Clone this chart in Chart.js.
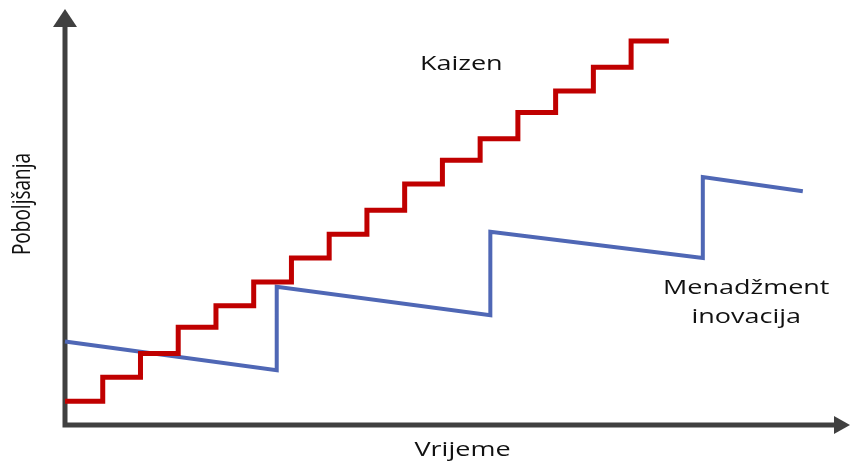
<!DOCTYPE html>
<html>
<head>
<meta charset="utf-8">
<script src="https://cdn.jsdelivr.net/npm/chart.js@4/dist/chart.umd.min.js"></script>
<style>
  html, body { margin: 0; padding: 0; background: #fff; }
  #wrap { width: 850px; height: 462px; }
</style>
</head>
<body>
<div id="wrap"><canvas id="chart"></canvas></div>
<script>
// kaizen: small steady steps
const kaizenX = [0, 1, 2, 3, 4, 5, 6, 7, 8, 9, 10, 11, 12, 13, 14, 15, 16];
const kaizenY = [1.0, 2.0, 3.0, 4.1, 5.0, 6.0, 7.0, 8.0, 9.0, 10.1, 11.1, 12.0, 13.1, 14.0, 15.0, 16.1, 16.1];

// innovation: big jumps, slow decay in between
const innovX = [0, 5.61, 5.61, 11.27, 11.27, 16.9, 16.9, 19.55];
const innovY = [3.5, 2.3, 5.8, 4.6, 8.1, 7.0, 10.4, 9.8];

const xMax = 20.8;
const yMax = 17.4;

const labels = [
  { text: ["Kaizen"], x: 10.5, y: 14.9 },
  { text: ["Menadžment", "inovacija"], x: 18.05, y: 5.5 }
];
const xTitle = "Vrijeme";
const yTitle = "Poboljšanja";

const toPoints = (xs, ys) => xs.map((x, i) => ({ x: x, y: ys[i] }));

const axisColor = "#404040";
const font = "'Open Sans', 'DejaVu Sans', sans-serif";
const stretch = 1.35; // the original picture is stretched sideways

const axesPlugin = {
  id: "arrowAxes",
  beforeDatasetsDraw(chart) {
    const { ctx, chartArea } = chart;
    const l = chartArea.left, b = chartArea.bottom;
    ctx.save();
    ctx.strokeStyle = axisColor;
    ctx.fillStyle = axisColor;
    ctx.lineWidth = 5;
    ctx.lineCap = "butt";
    ctx.beginPath();
    ctx.moveTo(l, b + 2.5);
    ctx.lineTo(l, chartArea.top + 12);
    ctx.moveTo(l - 2.5, b);
    ctx.lineTo(chartArea.right - 12, b);
    ctx.stroke();
    // arrow heads
    ctx.beginPath();
    ctx.moveTo(l, chartArea.top - 1);
    ctx.lineTo(l - 12, chartArea.top + 17);
    ctx.lineTo(l + 12, chartArea.top + 17);
    ctx.closePath();
    ctx.fill();
    ctx.beginPath();
    ctx.moveTo(chartArea.right, b);
    ctx.lineTo(chartArea.right - 16, b - 9);
    ctx.lineTo(chartArea.right - 16, b + 9);
    ctx.closePath();
    ctx.fill();
    ctx.restore();
  },
  afterDraw(chart) {
    const { ctx, chartArea, scales } = chart;
    const wideText = (t, px, py) => {
      ctx.save();
      ctx.translate(px, py);
      ctx.scale(stretch, 1);
      ctx.fillText(t, 0, 0);
      ctx.restore();
    };
    ctx.save();
    ctx.fillStyle = "#111";
    ctx.textAlign = "center";
    ctx.textBaseline = "alphabetic";
    ctx.font = "20px " + font;
    labels.forEach(lb => {
      const px = scales.x.getPixelForValue(lb.x);
      const py = scales.y.getPixelForValue(lb.y);
      lb.text.forEach((t, i) => wideText(t, px, py + i * 29));
    });
    wideText(xTitle, (chartArea.left + chartArea.right) / 2 + 5, chartArea.bottom + 31);
    ctx.translate(30, 204);
    ctx.rotate(-Math.PI / 2);
    ctx.scale(1, stretch);
    ctx.font = "19px 'Liberation Sans Narrow', 'Open Sans', sans-serif";
    ctx.fillText(yTitle, 0, 0);
    ctx.restore();
  }
};

new Chart(document.getElementById("chart"), {
  type: "line",
  data: {
    datasets: [
      {
        label: "Kaizen",
        data: toPoints(kaizenX, kaizenY),
        borderColor: "#C00000",
        borderWidth: 5,
        stepped: "before",
        pointRadius: 0,
        borderJoinStyle: "miter",
        fill: false
      },
      {
        label: "Menadžment inovacija",
        data: toPoints(innovX, innovY),
        borderColor: "#4F67B5",
        borderWidth: 4,
        tension: 0,
        pointRadius: 0,
        borderJoinStyle: "miter",
        fill: false
      }
    ]
  },
  options: {
    responsive: true,
    maintainAspectRatio: false,
    animation: false,
    clip: false,
    layout: { padding: { left: 65, right: 0, top: 10, bottom: 37 } },
    plugins: { legend: { display: false }, tooltip: { enabled: false } },
    scales: {
      x: { type: "linear", display: false, min: 0, max: xMax },
      y: { type: "linear", display: false, min: 0, max: yMax }
    }
  },
  plugins: [axesPlugin]
});
</script>
</body>
</html>
